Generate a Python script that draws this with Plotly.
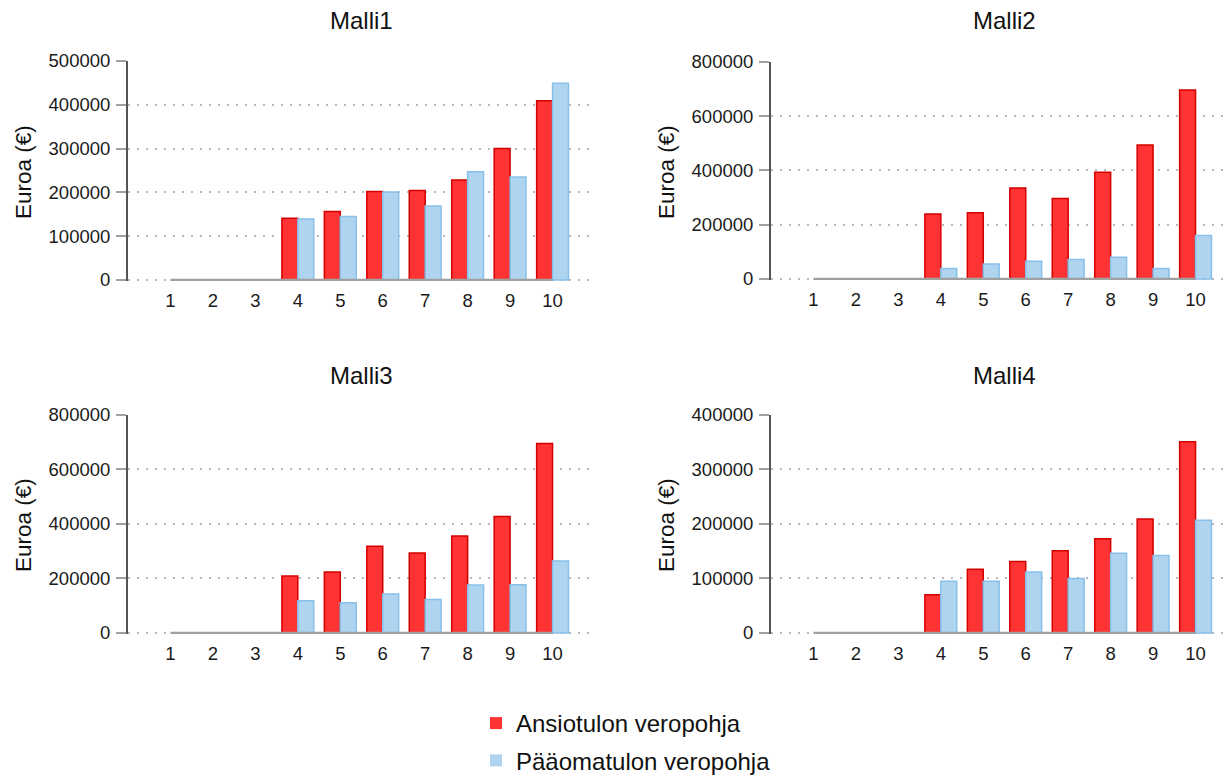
import plotly.graph_objects as go
from plotly.subplots import make_subplots

categories = [1, 2, 3, 4, 5, 6, 7, 8, 9, 10]
tick_labels = ["1", "2", "3", "4", "5", "6", "7", "8", "9", "10"]
panel_titles = ["Malli1", "Malli2", "Malli3", "Malli4"]
series_names = ["Ansiotulon veropohja", "Pääomatulon veropohja"]

malli1_ansio = [0, 0, 0, 141000, 156000, 202000, 204000, 228000, 300000, 409000]
malli1_paaoma = [0, 0, 0, 139000, 145000, 201000, 169000, 247000, 235000, 449000]
malli2_ansio = [0, 0, 0, 239000, 244000, 335000, 297000, 393000, 494000, 697000]
malli2_paaoma = [0, 0, 0, 38000, 55000, 65000, 72000, 80000, 38000, 160000]
malli3_ansio = [0, 0, 0, 209000, 224000, 318000, 293000, 356000, 427000, 695000]
malli3_paaoma = [0, 0, 0, 118000, 111000, 143000, 123000, 176000, 177000, 264000]
malli4_ansio = [0, 0, 0, 70000, 117000, 131000, 151000, 173000, 209000, 351000]
malli4_paaoma = [0, 0, 0, 95000, 95000, 112000, 100000, 146000, 142000, 207000]

y_max = [500000, 800000, 800000, 400000]
y_step = [100000, 200000, 200000, 100000]

panels = [
    (malli1_ansio, malli1_paaoma),
    (malli2_ansio, malli2_paaoma),
    (malli3_ansio, malli3_paaoma),
    (malli4_ansio, malli4_paaoma),
]

W, H = 1228, 776
FONT = "Liberation Sans, Arial, sans-serif"

red_fill = "#FF3333"
red_line = "#D40000"
blue_fill = "#AED4F0"
blue_line = "#88C0EA"


def outline_widths(values):
    return [1.5 if v else 0 for v in values]


fig = make_subplots(rows=2, cols=2)

positions = [(1, 1), (1, 2), (2, 1), (2, 2)]
for i, ((ansio, paaoma), (r, c)) in enumerate(zip(panels, positions)):
    fig.add_trace(go.Bar(x=categories, y=ansio, name=series_names[0],
                         marker=dict(color=red_fill,
                                     line=dict(color=red_line, width=outline_widths(ansio))),
                         legendgroup="a", showlegend=(i == 0)), row=r, col=c)
    fig.add_trace(go.Bar(x=categories, y=paaoma, name=series_names[1],
                         marker=dict(color=blue_fill,
                                     line=dict(color=blue_line, width=outline_widths(paaoma))),
                         legendgroup="b", showlegend=(i == 0)), row=r, col=c)
    fig.add_trace(go.Scatter(x=[categories[0], categories[-1]], y=[0, 0], mode="lines",
                             line=dict(color="#a0a0a0", width=2.5), showlegend=False,
                             hoverinfo="skip"), row=r, col=c)

# domains in pixels
px_left = [(128, 595), (771, 1228), (128, 595), (771, 1228)]
px_y = [(61, 281), (62, 280), (415, 634), (415, 634)]
unit = (595 - 128) / 11.0

axis_names = ["", "2", "3", "4"]
for i, nm in enumerate(axis_names):
    x0, x1 = px_left[i]
    y0, y1 = px_y[i]
    fig.layout["xaxis" + nm].update(
        domain=[x0 / W, x1 / W],
        range=[0, (x1 - x0) / unit],
        tickmode="array", tickvals=categories, ticktext=tick_labels,
        showgrid=False, zeroline=False, showline=False, ticks="",
        ticklabelstandoff=6,
        tickfont=dict(size=18.5, color="#1a1a1a", family=FONT),
    )
    pad = y_max[i] * 0.005
    fig.layout["yaxis" + nm].update(
        domain=[1 - y1 / H, 1 - y0 / H],
        range=[-pad, y_max[i]], dtick=y_step[i], tick0=0, tickformat="d",
        showgrid=True, gridcolor="#b8b8b8", griddash="1.5px,7.5px", gridwidth=1.5,
        zeroline=False, showline=True, linecolor="#555555", linewidth=2,
        ticks="outside", ticklen=10, tickcolor="#a0a0a0", tickwidth=2,
        ticklabelstandoff=2,
        tickfont=dict(size=18.5, color="#1a1a1a", family=FONT),
    )

annotations = []
title_pos = [(361.5, 20), (1004.5, 20), (361.5, 375), (1004.5, 375)]
for t, (tx, ty) in zip(panel_titles, title_pos):
    annotations.append(dict(text=t, x=tx / W, y=1 - ty / H, xref="paper", yref="paper",
                            showarrow=False, xanchor="center", yanchor="middle",
                            font=dict(size=24, color="#111111", family=FONT)))
ytitle_pos = [(23, 172), (666, 172), (23, 525), (666, 525)]
for (tx, ty) in ytitle_pos:
    annotations.append(dict(text="Euroa (€)", x=tx / W, y=1 - ty / H, xref="paper", yref="paper",
                            showarrow=False, xanchor="center", yanchor="middle", textangle=-90,
                            font=dict(size=22.5, color="#111111", family=FONT)))

fig.update_layout(
    width=W, height=H,
    margin=dict(l=0, r=0, t=0, b=0, autoexpand=False),
    paper_bgcolor="white", plot_bgcolor="white",
    barmode="group", bargap=0.25, bargroupgap=0,
    annotations=annotations,
    font=dict(family=FONT, color="#111111"),
    legend=dict(x=476 / W, y=1 - 701 / H, xanchor="left", yanchor="top",
                font=dict(size=24, family=FONT, color="#111111"),
                bgcolor="rgba(0,0,0,0)", tracegroupgap=3),
)

fig.write_html("out.html")
